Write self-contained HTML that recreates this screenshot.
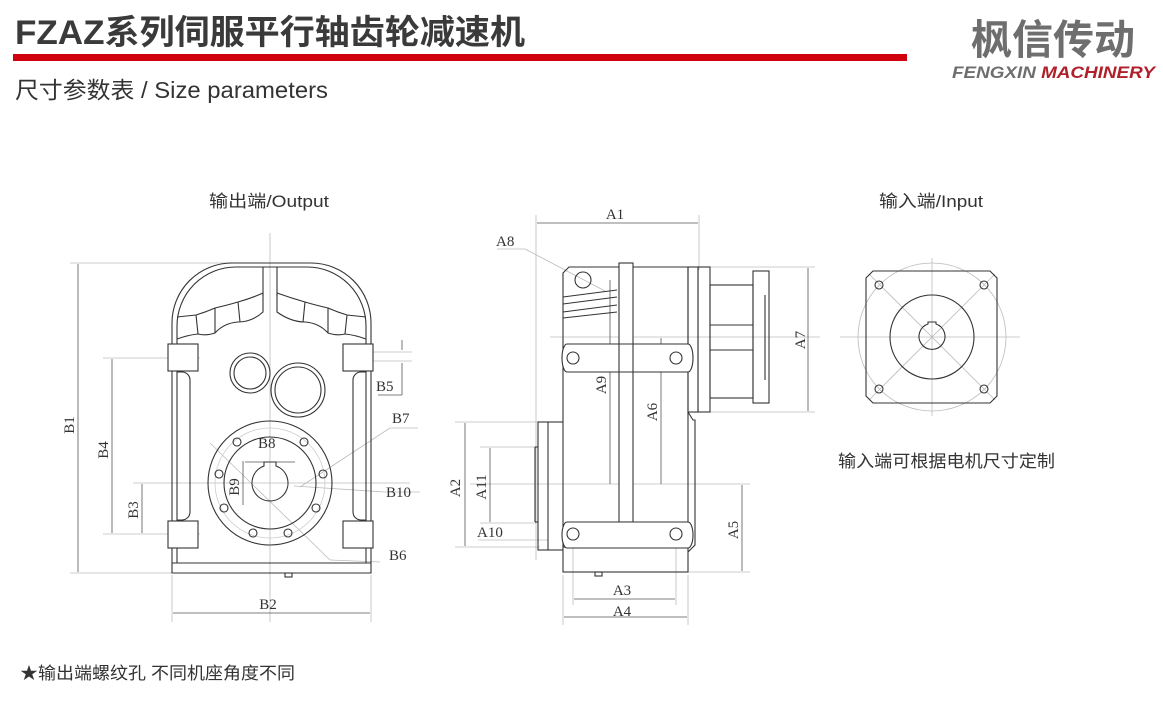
<!DOCTYPE html>
<html><head><meta charset="utf-8"><style>
html,body{margin:0;padding:0;background:#fff;width:1163px;height:710px;overflow:hidden}
svg{display:block}
.t{font-family:"Liberation Serif","Noto Serif CJK SC",serif;font-size:15px;fill:#333}
.s{font-family:"Liberation Sans","Noto Sans CJK SC",sans-serif;fill:#333}
</style></head><body>
<svg width="1163" height="710" viewBox="0 0 1163 710" xmlns="http://www.w3.org/2000/svg">
<!-- header -->
<text x="15" y="44" class="s" textLength="510" lengthAdjust="spacingAndGlyphs" style="font-size:34px;font-weight:bold;fill:#3a3a3a">FZAZ系列伺服平行轴齿轮减速机</text>
<rect x="13" y="54" width="894" height="7" fill="#d0000f"/>
<text x="15" y="98" class="s" textLength="313" lengthAdjust="spacingAndGlyphs" style="font-size:23px">尺寸参数表 / Size parameters</text>
<text x="971" y="54" class="s" textLength="164" lengthAdjust="spacingAndGlyphs" style="font-size:41px;font-weight:bold;fill:#6e6e6e">枫信传动</text>
<text x="952" y="78" class="s" textLength="203" lengthAdjust="spacingAndGlyphs" style="font-size:17px;font-weight:bold;font-style:italic;fill:#6e6e6e">FENGXIN <tspan fill="#b0202a">MACHINERY</tspan></text>

<text x="209" y="207" class="s" textLength="120" lengthAdjust="spacingAndGlyphs" style="font-size:17px">输出端/Output</text>
<text x="879" y="207" class="s" textLength="104" lengthAdjust="spacingAndGlyphs" style="font-size:17px">输入端/Input</text>
<text x="838" y="467" class="s" textLength="217" lengthAdjust="spacingAndGlyphs" style="font-size:17px">输入端可根据电机尺寸定制</text>
<text x="20" y="679" class="s" textLength="275" lengthAdjust="spacingAndGlyphs" style="font-size:17px">★输出端螺纹孔 不同机座角度不同</text>

<!-- OUTPUT VIEW -->
<g fill="none" stroke="#bbb" stroke-width="0.8">
<line x1="270" y1="233" x2="270" y2="622"/>
<line x1="70" y1="263" x2="270" y2="263"/>
<line x1="70" y1="573" x2="172" y2="573"/>
<line x1="103" y1="358" x2="200" y2="358"/>
<line x1="103" y1="534" x2="200" y2="534"/>
<line x1="133" y1="483" x2="410" y2="483"/>
<line x1="172" y1="575" x2="172" y2="622"/>
<line x1="371" y1="575" x2="371" y2="622"/>
<line x1="373" y1="352" x2="412" y2="352"/>
<line x1="373" y1="361" x2="412" y2="361"/>
<line x1="210" y1="443" x2="330" y2="560"/>
<line x1="330" y1="560" x2="380" y2="562"/>
<line x1="300" y1="487" x2="390" y2="428"/><line x1="390" y1="428" x2="418" y2="428"/>
<line x1="294" y1="486" x2="385" y2="492"/><line x1="385" y1="492" x2="420" y2="492"/>
<circle cx="270" cy="483" r="55" stroke="#ccc"/>
</g>
<g fill="none" stroke="#555" stroke-width="0.8">
<line x1="78" y1="264" x2="78" y2="572"/>
<line x1="112" y1="359" x2="112" y2="533"/>
<line x1="142" y1="484" x2="142" y2="533"/>
<line x1="173" y1="613" x2="370" y2="613"/>
<line x1="402" y1="340" x2="402" y2="350"/>
<line x1="402" y1="363" x2="402" y2="395"/><line x1="378" y1="395" x2="402" y2="395"/>
<line x1="245" y1="462" x2="295" y2="462"/>
<line x1="243" y1="461" x2="243" y2="505"/>
</g>
<g fill="none" stroke="#333" stroke-width="1.1">
<path d="M172 573 V323 A60 60 0 0 1 232 263 H311 A60 60 0 0 1 371 323 V573 Z"/>
<path d="M177 563 V326 A59 59 0 0 1 236 267 H307 A59 59 0 0 1 366 326 V563"/>
<line x1="172" y1="563" x2="371" y2="563"/>
<rect x="285" y="573" width="7" height="4"/>
<line x1="263" y1="267" x2="263" y2="296"/><line x1="277" y1="267" x2="277" y2="296"/>
<path d="M177 317 L196 315 Q206 312 215 308 Q228 305 238 302 Q252 298 263 293"/>
<path d="M177 339 Q188 335 198 334 Q206 336 215 333 Q224 323 238 322 Q252 322 263 312 V293"/>
<line x1="196" y1="315" x2="198" y2="334"/><line x1="215" y1="308" x2="215" y2="333"/><line x1="238" y1="302" x2="240" y2="322"/>
<path d="M366 317 L347 315 Q337 312 328 308 Q315 305 305 302 Q291 298 277 293"/>
<path d="M366 339 Q355 335 345 334 Q337 336 328 333 Q319 323 305 322 Q291 322 277 312 V293"/>
<line x1="347" y1="315" x2="345" y2="334"/><line x1="328" y1="308" x2="328" y2="333"/><line x1="305" y1="302" x2="303" y2="322"/>
<rect x="168" y="344" width="30" height="27" fill="#fff"/>
<rect x="343" y="344" width="30" height="27" fill="#fff"/>
<rect x="168" y="521" width="30" height="27" fill="#fff"/>
<rect x="343" y="521" width="30" height="27" fill="#fff"/>
<path d="M177 372 H182 A8 8 0 0 1 190 380 V512 A8 8 0 0 1 182 520 H177"/>
<path d="M366 372 H361 A8 8 0 0 0 353 380 V512 A8 8 0 0 0 361 520 H366"/>
<circle cx="250" cy="373" r="20"/><circle cx="250" cy="373" r="16"/>
<circle cx="298" cy="390" r="27"/><circle cx="298" cy="390" r="23"/>
<circle cx="270" cy="483" r="62"/>
<circle cx="270" cy="483" r="46"/>
<path d="M264 466 V462 H276 V466 A18 18 0 1 1 264 466 Z"/>
<circle cx="237" cy="442" r="4"/><circle cx="304" cy="442" r="4"/>
<circle cx="219" cy="474" r="4"/><circle cx="323" cy="474" r="4"/>
<circle cx="224" cy="508" r="4"/><circle cx="316" cy="508" r="4"/>
<circle cx="253" cy="533" r="4"/><circle cx="288" cy="533" r="4"/>
</g>
<g class="t">
<text transform="translate(74,425) rotate(-90)" text-anchor="middle" class="t">B1</text>
<text transform="translate(108,450) rotate(-90)" text-anchor="middle" class="t">B4</text>
<text transform="translate(138,510) rotate(-90)" text-anchor="middle" class="t">B3</text>
<text transform="translate(239,487) rotate(-90)" text-anchor="middle" class="t">B9</text>
<text x="268" y="609" text-anchor="middle" class="t">B2</text>
<text x="376" y="391" class="t">B5</text>
<text x="392" y="423" class="t">B7</text>
<text x="386" y="497" class="t">B10</text>
<text x="389" y="560" class="t">B6</text>
<text x="258" y="448" class="t">B8</text>
</g>

<!-- SIDE VIEW -->
<g fill="none" stroke="#bbb" stroke-width="0.8">
<line x1="536" y1="215" x2="536" y2="560"/>
<line x1="699" y1="215" x2="699" y2="270"/>
<line x1="497" y1="249" x2="525" y2="249"/><line x1="525" y1="249" x2="605" y2="291"/>
<line x1="550" y1="337" x2="820" y2="337"/>
<line x1="470" y1="484" x2="750" y2="484"/>
<line x1="698" y1="267" x2="815" y2="267"/>
<line x1="710" y1="412" x2="815" y2="412"/>
<line x1="455" y1="422" x2="540" y2="422"/>
<line x1="455" y1="547" x2="540" y2="547"/>
<line x1="480" y1="447" x2="536" y2="447"/>
<line x1="480" y1="523" x2="536" y2="523"/>
<line x1="688" y1="572" x2="750" y2="572"/>
<line x1="563" y1="575" x2="563" y2="625"/><line x1="688" y1="575" x2="688" y2="625"/>
<line x1="573" y1="540" x2="573" y2="605"/><line x1="676" y1="540" x2="676" y2="605"/>
<line x1="478" y1="540" x2="548" y2="540"/>
</g>
<g fill="none" stroke="#555" stroke-width="0.8">
<line x1="537" y1="223" x2="698" y2="223"/>
<line x1="808" y1="268" x2="808" y2="411"/>
<line x1="465" y1="423" x2="465" y2="546"/>
<line x1="490" y1="448" x2="490" y2="522"/>
<line x1="742" y1="485" x2="742" y2="571"/>
<line x1="610" y1="280" x2="610" y2="484"/>
<line x1="661" y1="338" x2="661" y2="484"/>
<line x1="574" y1="599" x2="675" y2="599"/>
<line x1="564" y1="617" x2="687" y2="617"/>
</g>
<g fill="none" stroke="#333" stroke-width="1.1">
<path d="M563 547 V273 L569 267 H688 V547 Z"/>
<rect x="563" y="547" width="125" height="25"/>
<rect x="595" y="572" width="7" height="4"/>
<rect x="538" y="422" width="10" height="128"/>
<line x1="548" y1="422" x2="563" y2="422"/>
<line x1="548" y1="550" x2="563" y2="550"/>
<line x1="535" y1="447" x2="538" y2="447"/><line x1="535" y1="447" x2="535" y2="522"/><line x1="535" y1="522" x2="538" y2="522"/>
<rect x="619" y="263" width="14" height="259" fill="#fff"/>
<rect x="688" y="267" width="10" height="145"/>
<rect x="698" y="267" width="12" height="145"/>
<rect x="710" y="285" width="43" height="113"/>
<line x1="710" y1="325" x2="753" y2="325"/><line x1="710" y1="350" x2="753" y2="350"/>
<rect x="753" y="271" width="16" height="132"/>
<line x1="765" y1="295" x2="765" y2="380"/>
<path d="M688 412 L693 420 H695 V545 L688 552"/>
<path d="M567 344 H688 A5 14 0 0 1 688 372 H567 A5 14 0 0 1 567 344 Z" fill="#fff"/>
<path d="M567 522 H688 A5 13 0 0 1 688 548 H567 A5 13 0 0 1 567 522 Z" fill="#fff"/>
<line x1="619" y1="344" x2="619" y2="372"/><line x1="633" y1="344" x2="633" y2="372"/>
<circle cx="573" cy="358" r="6"/><circle cx="676" cy="358" r="6"/>
<circle cx="573" cy="534" r="6"/><circle cx="676" cy="534" r="6"/>
<circle cx="583" cy="280" r="8"/>
<line x1="563" y1="297" x2="617" y2="290"/>
<line x1="563" y1="304" x2="617" y2="297"/>
<line x1="563" y1="312" x2="617" y2="305"/>
<line x1="563" y1="318" x2="617" y2="312"/>
</g>
<g class="t">
<text x="615" y="219" text-anchor="middle" class="t">A1</text>
<text x="496" y="246" class="t">A8</text>
<text transform="translate(805,340) rotate(-90)" text-anchor="middle" class="t">A7</text>
<text transform="translate(606,385) rotate(-90)" text-anchor="middle" class="t">A9</text>
<text transform="translate(657,412) rotate(-90)" text-anchor="middle" class="t">A6</text>
<text transform="translate(460,488) rotate(-90)" text-anchor="middle" class="t">A2</text>
<text transform="translate(486,487) rotate(-90)" text-anchor="middle" class="t">A11</text>
<text x="477" y="537" class="t">A10</text>
<text transform="translate(738,530) rotate(-90)" text-anchor="middle" class="t">A5</text>
<text x="622" y="595" text-anchor="middle" class="t">A3</text>
<text x="622" y="616" text-anchor="middle" class="t">A4</text>
</g>

<!-- INPUT VIEW -->
<g fill="none" stroke="#bbb" stroke-width="0.8">
<circle cx="932" cy="337" r="74"/>
<line x1="840" y1="337" x2="1020" y2="337"/>
<line x1="932" y1="258" x2="932" y2="416"/>
<line x1="869" y1="274" x2="995" y2="400"/>
<line x1="995" y1="274" x2="869" y2="400"/>
</g>
<g fill="none" stroke="#333" stroke-width="1.1">
<path d="M873 271 H990 L997 278 V396 L990 403 H873 L866 396 V278 Z"/>
<circle cx="932" cy="337" r="42"/>
<path d="M928 324 V322 H936 V324 A13 13 0 1 1 928 324 Z"/>
<circle cx="879" cy="285" r="4"/><circle cx="984" cy="285" r="4"/>
<circle cx="879" cy="389" r="4"/><circle cx="984" cy="389" r="4"/>
</g>
</svg>
</body></html>
